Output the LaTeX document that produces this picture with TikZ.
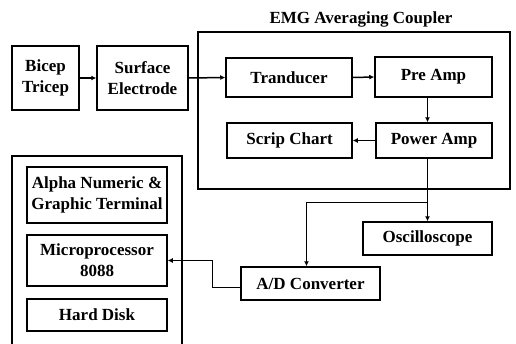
\documentclass[tikz,border=0pt]{standalone}
\usepackage{fontspec}
\setmainfont{Liberation Serif}
\usetikzlibrary{arrows.meta,calc}
\begin{document}
\begin{tikzpicture}[x=1pt,y=-1pt,
  blk/.style={draw,line width=1.5pt,inner sep=0pt,align=center,font=\fontsize{17}{21}\selectfont\bfseries},
  arr/.style={line width=1.5pt,-{Latex[length=5pt,width=5pt]}},
  frame/.style={draw,line width=1.5pt}]
\useasboundingbox (0,0) rectangle (516,343);
% frames
\draw[frame] (198,32) rectangle (510,189);
\node[font=\fontsize{17}{20}\selectfont\bfseries] (title) at (361,19) {EMG Averaging Coupler};
\draw[frame] (12,350) -- (12,156) -- (182,156) -- (182,350);
% nodes
\node[blk,minimum width=67pt,minimum height=64pt] (bic) at (45.5,78) {Bicep\\Tricep};
\node[blk,minimum width=91pt,minimum height=64pt] (sur) at (142.5,78) {Surface\\Electrode};
\node[blk,minimum width=126pt,minimum height=39pt] (tra) at (289,77.5) {Tranducer};
\node[blk,minimum width=117pt,minimum height=40pt] (pre) at (433.5,77) {Pre Amp};
\node[blk,minimum width=125pt,minimum height=35pt] (scr) at (289.5,140.5) {Scrip Chart};
\node[blk,minimum width=116pt,minimum height=35pt] (pow) at (434,140.5) {Power Amp};
\node[blk,minimum width=129pt,minimum height=33pt] (osc) at (427.5,238.5) {Oscilloscope};
\node[blk,minimum width=139pt,minimum height=33pt] (ad) at (310.5,283.5) {A/D Converter};
\node[blk,minimum width=140pt,minimum height=56pt] (alp) at (97,195) {Alpha Numeric \&\\Graphic Terminal};
\node[blk,minimum width=140pt,minimum height=51pt] (mic) at (97,260.5) {Microprocessor\\8088};
\node[blk,minimum width=140pt,minimum height=32pt] (hd) at (97,315) {Hard Disk};
% connectors
\draw[arr] (bic.east) -- (sur.west);
\draw[arr] (sur.east) -- (tra.west);
\draw[arr] (tra.east) -- (pre.west);
\draw[arr] (pre.south -| osc.north) -- (pow.north -| osc.north);
\draw[arr] (pow.west) -- (scr.east);
\draw[arr] (pow.south -| osc.north) -- (osc.north);
\coordinate (j) at ($(pow.south -| osc.north)!0.7!(osc.north)$);
\draw[arr] (j) -| ($(ad.north)+(-4,0)$);
\draw[arr] ($(ad.west)+(0,4)$) -- ++(-28,0) |- (mic.east);
\end{tikzpicture}
\end{document}
